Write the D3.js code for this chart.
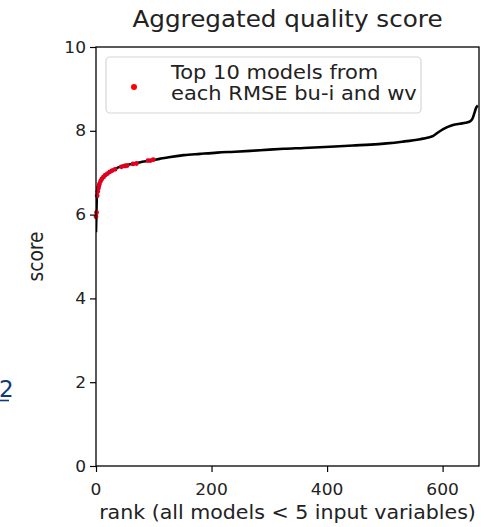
<!DOCTYPE html>
<html>
<head>
<meta charset="utf-8">
<script src="https://cdn.jsdelivr.net/npm/d3@7"></script>
<style>
  body { margin: 0; background: #fff; }
  svg { display: block; }
  text { font-family: "DejaVu Sans", sans-serif; fill: #222; }
</style>
</head>
<body>
<svg id="chart" width="497" height="527"></svg>
<script>
// Aggregated quality score of every model, sorted by rank
const rankAll  = [0, 0.5, 1, 1.5, 2, 4, 7, 10, 16, 22, 28, 36, 45, 55, 65, 80, 94, 110, 126, 152,
                  180, 210, 240, 267, 300, 325, 360, 405, 445, 475, 503, 530, 561, 575, 584, 592,
                  601, 610, 618, 630, 640, 648, 652, 655, 658, 661];
const scoreAll = [5.58, 5.9, 6.2, 6.45, 6.55, 6.68, 6.79, 6.86, 6.95, 7.01, 7.06, 7.11, 7.16, 7.19, 7.21, 7.26, 7.29, 7.33, 7.37, 7.42,
                  7.45, 7.48, 7.50, 7.52, 7.55, 7.57, 7.59, 7.62, 7.65, 7.67, 7.70, 7.74, 7.80, 7.84, 7.88, 7.96,
                  8.04, 8.10, 8.14, 8.17, 8.19, 8.23, 8.30, 8.42, 8.55, 8.60];

// Top 10 models from each RMSE ranking (bu-i and wv)
const topRanks  = [0, 1, 2, 3, 4, 5, 6, 8, 10, 13, 16, 20, 24, 28, 33, 44, 50, 54, 64, 70, 90, 94, 99];
const topScores = [5.95, 6.05, 6.45, 6.55, 6.62, 6.68, 6.73, 6.8, 6.85, 6.9, 6.94, 6.98, 7.02, 7.05, 7.08,
                   7.14, 7.16, 7.17, 7.21, 7.22, 7.29, 7.29, 7.31];

const xTicks = [0, 200, 400, 600];
const yTicks = [0, 2, 4, 6, 8, 10];
const xMax = 663;

const svg = d3.select("#chart");
const plot = { left: 96, right: 479, top: 47, bottom: 466 };
const stretch = 1.1;   // slightly wide lettering

const x = d3.scaleLinear().domain([0, xMax]).range([plot.left, plot.right]);
const y = d3.scaleLinear().domain([0, 10]).range([plot.bottom, plot.top]);

// Places a text label with widened glyphs
function label(px, py, str, size, anchor = "start", rotate = 0) {
  const g = svg.append("g")
    .attr("transform", rotate
      ? `translate(${px},${py}) rotate(${rotate}) scale(1,${stretch})`
      : `translate(${px},${py}) scale(${stretch},1)`);
  return g.append("text").attr("font-size", size).attr("text-anchor", anchor).text(str);
}

svg.append("clipPath").attr("id", "plotClip")
  .append("rect")
  .attr("x", plot.left).attr("y", plot.top)
  .attr("width", plot.right - plot.left).attr("height", plot.bottom - plot.top);

// Score curve
const lineData = rankAll.map((r, i) => [r, scoreAll[i]]);
svg.append("path")
  .datum(lineData)
  .attr("clip-path", "url(#plotClip)")
  .attr("fill", "none")
  .attr("stroke", "#000")
  .attr("stroke-width", 2.6)
  .attr("stroke-linejoin", "round")
  .attr("d", d3.line().x(d => x(d[0])).y(d => y(d[1])).curve(d3.curveMonotoneX));

// Highlighted models
svg.append("g")
  .selectAll("circle")
  .data(topRanks.map((r, i) => [r, topScores[i]]))
  .join("circle")
  .attr("cx", d => x(d[0]))
  .attr("cy", d => y(d[1]))
  .attr("r", 2.4)
  .attr("fill", "#e0001e");

// Axes (tick marks from d3, labels widened separately)
const xAxis = d3.axisBottom(x).tickValues(xTicks).tickSize(6).tickFormat("");
const yAxis = d3.axisLeft(y).tickValues(yTicks).tickSize(6).tickFormat("");

const gx = svg.append("g").attr("transform", `translate(0,${plot.bottom})`).call(xAxis);
const gy = svg.append("g").attr("transform", `translate(${plot.left},0)`).call(yAxis);
[gx, gy].forEach(g => {
  g.select(".domain").remove();
  g.selectAll(".tick line").attr("stroke", "#000").attr("stroke-width", 1.2);
});
xTicks.forEach(v => label(x(v), 495, d3.format("d")(v), 15.5, "middle"));
yTicks.forEach(v => label(plot.left - 10, y(v) + 5.6, d3.format("d")(v), 15.5, "end"));

// Frame
svg.append("rect")
  .attr("x", plot.left).attr("y", plot.top)
  .attr("width", plot.right - plot.left).attr("height", plot.bottom - plot.top)
  .attr("fill", "none").attr("stroke", "#000").attr("stroke-width", 1.3);

// Title and axis labels
label((plot.left + plot.right) / 2, 27, "Aggregated quality score", 22.4, "middle");
label((plot.left + plot.right) / 2, 519, "rank (all models < 5 input variables)", 18.7, "middle");
label(43, (plot.top + plot.bottom) / 2, "score", 18.7, "middle", -90);

// Legend
const legend = svg.append("g");
legend.append("rect")
  .attr("x", 106).attr("y", 57).attr("width", 315).attr("height", 56)
  .attr("rx", 4).attr("fill", "#fff").attr("fill-opacity", 0.8)
  .attr("stroke", "#d6d6d6").attr("stroke-width", 1.2);
legend.append("circle").attr("cx", 134).attr("cy", 87).attr("r", 3).attr("fill", "red");
label(171, 79, "Top 10 models from", 19.1);
label(171, 100, "each RMSE bu-i and wv", 19.1);

// Stray page number at the left margin
svg.append("text")
  .attr("x", -1).attr("y", 397).attr("font-size", 23)
  .style("fill", "#0d3c78")
  .text("2");
svg.append("line")
  .attr("x1", 0).attr("x2", 9).attr("y1", 400.5).attr("y2", 400.5)
  .attr("stroke", "#0d3c78").attr("stroke-width", 1.6);
</script>
</body>
</html>
